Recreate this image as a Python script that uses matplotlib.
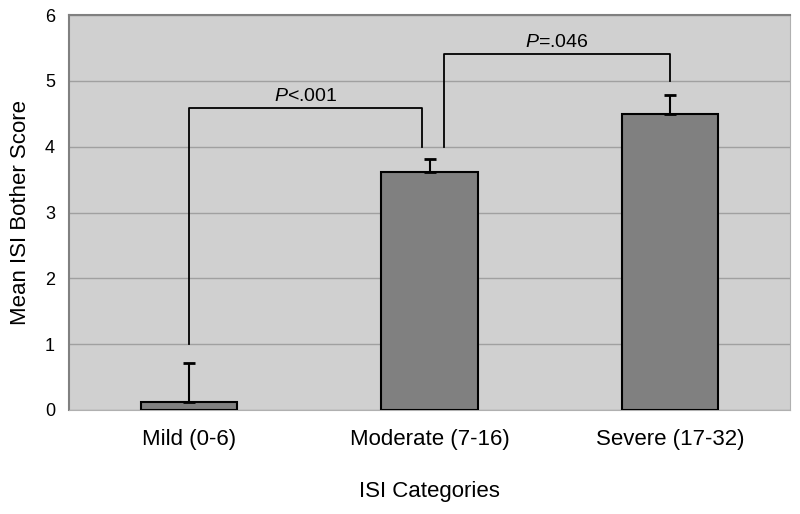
import matplotlib
matplotlib.use("Agg")
import matplotlib.pyplot as plt

# ------------- data -----------------------------------
categories = ["Mild (0-6)", "Moderate (7-16)", "Severe (17-32)"]
means = [0.12, 3.62, 4.50]
errors_up = [0.60, 0.19, 0.29]   # only the upper half of the error bar is drawn

# comparison brackets: (left bar, right bar, bracket height, left leg end, right leg end, label)
brackets = [
    (0, 1, 4.59, 1.0, 4.0, r"$\it{P}$<.001"),
    (1, 2, 5.41, 4.0, 5.0, r"$\it{P}$=.046"),
]

plt.rcParams['font.family'] = ['Liberation Sans', 'DejaVu Sans']
plt.rcParams['mathtext.fontset'] = 'custom'
plt.rcParams['mathtext.it'] = 'Liberation Sans:italic'

fig = plt.figure(figsize=(8, 5.14), dpi=100, facecolor='white')
ax = fig.add_axes([69/800, 1 - 410/514, (790-69)/800, (410-15)/514])
ax.set_facecolor('#d0d0d0')

x = list(range(len(categories)))
ax.bar(x, means, width=0.4, color='#808080', edgecolor='black', linewidth=1.5, zorder=3)
ax.errorbar(x, means, yerr=[[0]*len(means), errors_up], fmt='none',
            ecolor='black', elinewidth=1.5, capsize=4.5, capthick=2, zorder=4)

# brackets with p values
for i, j, h, yl, yr, label in brackets:
    xl = x[i] + (0.06 if i == 1 else 0)
    xr = x[j] - (0.03 if j == 1 else 0)
    ax.plot([xl, xl, xr, xr], [yl, h, h, yr], color='black', lw=1.3, zorder=5)
    ax.text((xl + xr) / 2, h + 0.04, label, ha='center', va='bottom', fontsize=14)

ax.set_xlim(-0.5, 2.5)
ax.set_ylim(0, 6)
ax.set_yticks(range(7))
ax.yaxis.grid(True, color='#a0a0a0', lw=1)
ax.set_axisbelow(True)
ax.set_xticks(x)
ax.set_xticklabels(categories, fontsize=16)
ax.tick_params(axis='y', labelsize=13, length=0, pad=10)
ax.tick_params(axis='x', length=0, pad=14)

for side in ['left', 'top']:
    ax.spines[side].set_color('#808080')
    ax.spines[side].set_linewidth(1.5)
ax.spines['right'].set_color('#b0b0b0')
ax.spines['bottom'].set_color('#b0b0b0')

ax.set_ylabel("Mean ISI Bother Score", fontsize=16, labelpad=10)
ax.set_xlabel("ISI Categories", fontsize=16, labelpad=22)

plt.savefig("out.png", dpi=100, facecolor='white')
